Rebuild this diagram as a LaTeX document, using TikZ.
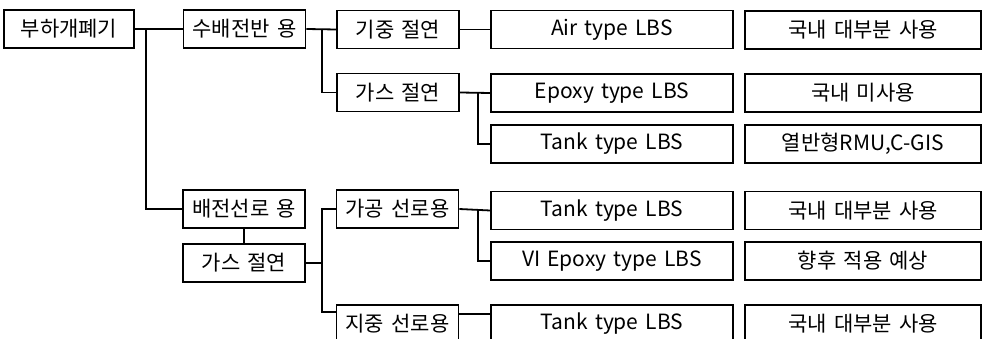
\documentclass[tikz,border=0pt]{standalone}
\usepackage{fontspec}
\setmainfont[WordSpace=1.5]{Noto Sans CJK KR}
\usetikzlibrary{calc}
\tikzset{
  box/.style={draw, line width=1.8pt, inner sep=0pt, font=\fontsize{21}{23}\selectfont},
  wa/.style={box, minimum width=130pt, minimum height=38pt},
  wb/.style={box, minimum width=122pt, minimum height=38pt},
  wc/.style={box, minimum width=242pt, minimum height=38pt},
  wd/.style={box, minimum width=236pt, minimum height=38pt},
  conn/.style={line width=1.8pt}
}
\begin{document}
\begin{tikzpicture}[x=1pt,y=-1pt]
\clip (0,0) rectangle (984,339);
\fill[white] (0,0) rectangle (984,339);
% column 1
\node[wa] (A) at (69,29) {부하개폐기};
% column 2
\node[wb] (B) at (244.5,29) {수배전반 용};
\node[wb] (K) at (244,209) {배전선로 용};
\node[wb] (L) at (244,263) {가스 절연};
% column 3
\node[wb] (C) at (398,29.5) {기중 절연};
\node[wb] (D) at (398,92.5) {가스 절연};
\node[wb] (M) at (397.5,209) {가공 선로용};
\node[wb] (N) at (397.5,324) {지중 선로용};
% column 4
\node[wc] (E) at (612,29.5) {Air type LBS};
\node[wc] (F) at (612,93) {Epoxy type LBS};
\node[wc] (G) at (612,144) {Tank type LBS};
\node[wc] (O) at (612,210.5) {Tank type LBS};
\node[wc] (P) at (612,261) {VI Epoxy type LBS};
\node[wc] (Q) at (612,324) {Tank type LBS};
% column 5
\node[wd] (H) at (863,30) {국내 대부분 사용};
\node[wd] (I) at (863,93) {국내 미사용};
\node[wd] (J) at (863,144) {열반형RMU,C-GIS};
\node[wd] (R) at (863,210.5) {국내 대부분 사용};
\node[wd] (S) at (863,261) {향후 적용 예상};
\node[wd] (T) at (863,324) {국내 대부분 사용};
% junctions
\coordinate (j1) at (146,29);
\coordinate (j2) at (322,29);
\coordinate (j3) at (478,92.5);
\coordinate (j4) at (322,263);
\coordinate (j5) at (478,209);
\coordinate (nw) at ($(N.north west)+(0,8)$);
\coordinate (ne) at ($(N.north east)+(0,10)$);
\coordinate (qw) at ($(Q.north west)+(0,10)$);
% connectors
\draw[conn] (A.east) -- (B.west);
\draw[conn] (j1) |- (K.west);
\draw[conn] (B.east) -- (C.west);
\draw[conn] (j2) |- (D.west);
\draw[conn] (C.east) -- (E.west);
\draw[conn] (D.east) -- (F.west);
\draw[conn] (j3) |- (G.west);
\draw[conn] (K.south) -- (L.north);
\draw[conn] (L.east) -- (j4);
\draw[conn] (M.west) -| (j4) |- (nw);
\draw[conn] (M.east) -- (O.west);
\draw[conn] (j5) |- (P.west);
\draw[conn] (ne) -- (qw);
\end{tikzpicture}
\end{document}
